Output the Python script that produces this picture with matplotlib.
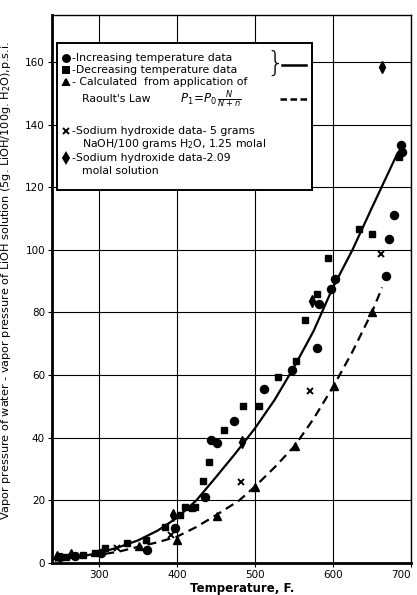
import matplotlib.pyplot as plt
from matplotlib.patches import Rectangle

# Increasing temperature data (circles)
inc_t = [250, 270, 303, 362, 398, 436, 444, 451, 473, 512, 547, 579, 582, 598, 603, 668, 672, 678, 687, 688]
inc_p = [2.0, 2.2, 3.1, 4.0, 11.1, 21.2, 39.4, 38.3, 45.2, 55.5, 61.5, 68.8, 82.6, 87.4, 90.6, 91.5, 103.4, 111.0, 133.4, 131.3]

# Decreasing temperature data (squares)
dec_t = [258, 280, 295, 308, 336, 361, 385, 404, 411, 419, 423, 434, 441, 460, 485, 505, 530, 553, 564, 579, 594, 634, 650, 684]
dec_p = [1.8, 2.4, 3.1, 4.7, 6.3, 7.4, 11.6, 15.4, 17.8, 17.5, 18.0, 26.2, 32.2, 42.6, 50.2, 50.2, 59.3, 64.5, 77.5, 86.0, 97.3, 106.8, 105.0, 129.5]

# Raoult's law (triangles)
raoult_t = [247, 264, 351, 400, 451, 500, 551, 601, 650]
raoult_p = [2.5, 3.2, 5.5, 7.4, 15.1, 24.4, 37.4, 56.6, 80.1]

# NaOH 1.25 molal (x)
naoh_t = [323, 393, 482, 571, 662]
naoh_p = [4.7, 9.0, 25.8, 54.8, 98.6]

# NaOH 2.09 molal (diamonds)
naoh2_t = [395, 483, 573, 663]
naoh2_p = [15.4, 38.8, 83.6, 158.3]

# faired curves
solid_t = [245, 275, 300, 325, 350, 375, 400, 425, 450, 475, 500, 525, 550, 575, 600, 625, 650, 683]
solid_p = [0.8, 2.0, 3.2, 5.0, 7.2, 10.3, 14.4, 20.0, 27.4, 35.0, 43.0, 52.0, 62.5, 74.0, 88.0, 100.0, 113.5, 131.0]
dash_t = [290, 325, 351, 375, 400, 425, 451, 480, 500, 525, 551, 575, 601, 625, 650, 663]
dash_p = [2.2, 3.6, 5.2, 6.6, 8.4, 11.5, 15.4, 20.0, 24.4, 30.5, 37.4, 46.0, 56.6, 67.5, 80.1, 88.0]

fig = plt.figure(figsize=(4.17, 5.95), dpi=100)
ax = fig.add_axes([52/417, 32/595, 359/417, 548/595])

ax.plot(solid_t, solid_p, color='black', lw=1.6, zorder=3)
ax.plot(dash_t, dash_p, color='black', lw=1.6, dashes=(4, 2.5), zorder=3)
ax.plot(inc_t, inc_p, 'o', color='black', ms=5.8, zorder=4)
ax.plot(dec_t, dec_p, 's', color='black', ms=5.0, zorder=4)
ax.plot(raoult_t, raoult_p, '^', color='black', ms=5.8, zorder=4)
ax.plot(naoh_t, naoh_p, 'x', color='black', ms=4.5, mew=1.4, zorder=4)
ax.plot(naoh2_t, naoh2_p, 'd', color='black', ms=5.8, zorder=4)

ax.set_xlim(240, 700)
ax.set_ylim(0, 175)
ax.set_xticks([300, 400, 500, 600, 700])
ax.set_yticks(range(0, 161, 20))
ax.grid(True, color='black', lw=0.8)
ax.tick_params(direction='out', length=3, width=0.8, labelsize=7.5, pad=2)
ax.get_xticklabels()[-1].set_horizontalalignment('right')
for s in ['left', 'bottom']:
    ax.spines[s].set_linewidth(2)
for s in ['top', 'right']:
    ax.spines[s].set_linewidth(1)

ax.set_xlabel('Temperature, F.', fontsize=8.5, fontweight='bold')
ax.xaxis.set_label_coords(0.53, -0.035)
ax.set_ylabel('Vapor pressure of water - vapor pressure of LiOH solution (5g. LiOH/100g. H$_2$O),p.s.i.',
              fontsize=8.1)
ax.yaxis.set_label_coords(-0.11, 0.515)

# legend box drawn by hand, in pixel terms of the axes
def ax_xy(px, py):
    return (px - 52) / 359, (563 - py) / 548

x0, y0 = ax_xy(57, 190)
x1, y1 = ax_xy(312, 43)
ax.add_patch(Rectangle((x0, y0), x1 - x0, y1 - y0, transform=ax.transAxes,
                       facecolor='white', edgecolor='black', lw=1.4, zorder=6))

fs = 7.8
rows = [
    ('o', 58, '-Increasing temperature data', 72),
    ('s', 70, '-Decreasing temperature data', 72),
    ('^', 82, '- Calculated  from application of', 72),
    (None, 99, "Raoult's Law", 82),
    ('x', 131, '-Sodium hydroxide data- 5 grams', 72),
    (None, 144, 'NaOH/100 grams H$_2$O, 1.25 molal', 82),
    ('d', 158, '-Sodium hydroxide data-2.09', 72),
    (None, 171, 'molal solution', 82),
]
for m, py, txt, tx in rows:
    if m:
        mx, my = ax_xy(66, py)
        ax.plot([mx], [my], m, color='black', ms=5, mew=1.4,
                transform=ax.transAxes, zorder=7, clip_on=False)
    tx_, ty_ = ax_xy(tx, py)
    ax.text(tx_, ty_, txt, transform=ax.transAxes, fontsize=fs,
            va='center', ha='left', zorder=7)

fx, fy = ax_xy(180, 99)
ax.text(fx, fy, r'$P_1\!=\!P_0\,\frac{N}{N+n}$', transform=ax.transAxes,
        fontsize=8.5, va='center', ha='left', zorder=7)

bx, by = ax_xy(266, 64)
ax.text(bx, by, '}', transform=ax.transAxes, fontsize=20, va='center',
        ha='left', zorder=7, fontweight='light')
lx0, ly = ax_xy(282, 65)
lx1, _ = ax_xy(306, 65)
ax.plot([lx0, lx1], [ly, ly], color='black', lw=1.8, transform=ax.transAxes, zorder=7)
dx0, dy = ax_xy(280, 99)
dx1, _ = ax_xy(308, 99)
ax.plot([dx0, dx1], [dy, dy], color='black', lw=1.8, dashes=(2.6, 1.4),
        transform=ax.transAxes, zorder=7)

fig.savefig('out.png', dpi=100)
